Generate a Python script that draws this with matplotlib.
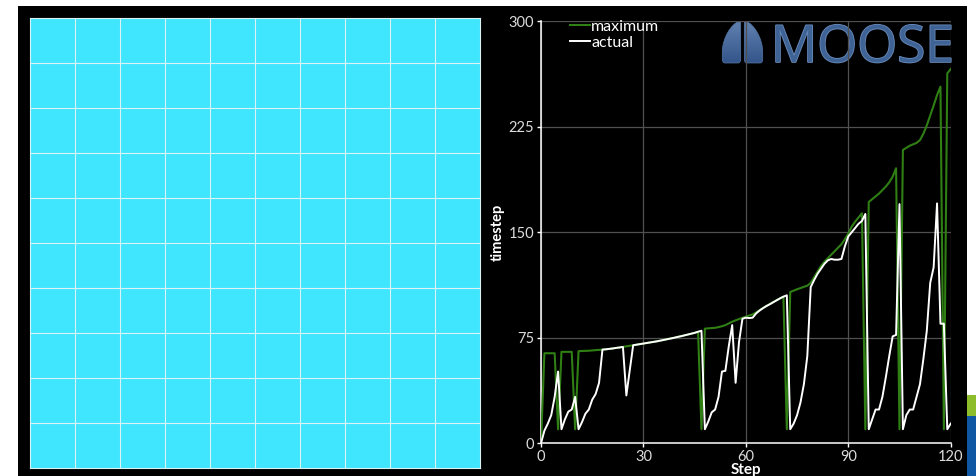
import numpy as np
import matplotlib
matplotlib.use("Agg")
import matplotlib.pyplot as plt
from matplotlib.colors import LinearSegmentedColormap
from matplotlib.patches import Rectangle, PathPatch
from matplotlib.path import Path
import matplotlib.patheffects as pe

# timestep history, one value per step
steps = np.arange(121)
maximum = [
    0, 64, 64, 64, 64, 10, 65, 65, 65, 65,
    10, 65.5, 65.6, 65.7, 65.8, 66.0, 66.2, 66.4, 66.6, 66.8,
    67.1, 67.4, 67.8, 68.1, 68.5, 68.9, 69.3, 69.7, 70.1, 70.5,
    70.9, 71.3, 71.7, 72.1, 72.5, 73.0, 73.5, 74.0, 74.5, 75.0,
    75.6, 76.1, 76.7, 77.3, 77.9, 78.5, 79.3, 10, 81.5, 81.7,
    81.9, 82.1, 82.6, 83.2, 84.0, 85.2, 86.4, 87.4, 88.3, 89.2,
    90.0, 90.8, 91.6, 93.0, 94.6, 96.2, 97.6, 99.0, 100.4, 101.7,
    103.0, 104.3, 10, 107.5, 108.5, 109.5, 110.3, 111.2, 112.0, 114.0,
    118.0, 122.0, 126.0, 129.0, 131.5, 134.0, 136.5, 139.0, 141.5, 145.0,
    149.0, 154.0, 157.5, 160.5, 163.5, 10, 171.5, 173.5, 175.5, 177.5,
    180.0, 182.5, 185.5, 189.5, 195.5, 10, 208.5, 210.0, 211.5, 212.5,
    213.5, 215.5, 220.0, 226.0, 233.0, 240.0, 247.5, 253.5, 10, 263.0,
    266.0,
]
actual = [
    0, 9, 14, 20, 33, 51, 10, 17, 22.5, 24,
    33, 10, 15, 21, 24, 31, 35, 43, 66.6, 66.8,
    67.1, 67.4, 67.8, 68.1, 68.5, 34, 52, 69.7, 70.1, 70.5,
    70.9, 71.3, 71.7, 72.1, 72.5, 73.0, 73.5, 74.0, 74.5, 75.0,
    75.6, 76.1, 76.7, 77.3, 77.9, 78.5, 79.3, 80, 10, 15.5,
    22, 24, 33, 51, 51.5, 69, 84, 43, 72, 88.5,
    89.3, 89, 89.3, 92.3, 94.3, 96, 97.5, 98.8, 100.2, 101.6,
    103, 104.2, 105.2, 10, 14, 20, 29, 42, 62, 111,
    116, 120.5, 124, 127.5, 130, 131, 130.5, 130.5, 131, 140,
    147, 150, 153, 156, 158, 163, 10, 17, 24, 24,
    33, 47, 62, 76, 77, 170, 10, 20, 24, 24,
    33, 42, 60, 80, 114, 125, 170.5, 85, 85, 10,
    14,
]
xticks = [0, 30, 60, 90, 120]
yticks = [0, 75, 150, 225, 300]
mesh_cells = 10

W, H = 976, 476
fig = plt.figure(figsize=(W / 100, H / 100), dpi=100, facecolor="white")

# full-figure pixel canvas for the backdrop and decorations
bg = fig.add_axes([0, 0, 1, 1])
bg.set_xlim(0, W)
bg.set_ylim(H, 0)
bg.axis("off")
bg.add_patch(Rectangle((18, 6), 967 - 18, H - 6, color="black", lw=0))
bg.add_patch(Rectangle((967, 395), 9, 21, color="#8dbd2b", lw=0))
bg.add_patch(Rectangle((967, 416), 9, 60, color="#0f56a3", lw=0))


def lobe(x_in, x_out):
    d = x_out - x_in
    verts = [
        (x_in, 24),
        (x_in, 59),
        (x_in, 63), (x_in + 0.15 * d, 63),
        (x_in + 0.85 * d, 63),
        (x_out, 63), (x_out, 59),
        (x_out, 52),
        (x_out, 38), (x_in + 0.5 * d, 24), (x_in + 0.12 * d, 21.5),
        (x_in, 20.5), (x_in, 24),
        (x_in, 24),
    ]
    codes = [Path.MOVETO, Path.LINETO, Path.CURVE3, Path.CURVE3,
             Path.LINETO, Path.CURVE3, Path.CURVE3, Path.LINETO,
             Path.CURVE4, Path.CURVE4, Path.CURVE4,
             Path.CURVE3, Path.CURVE3, Path.CLOSEPOLY]
    return PathPatch(Path(verts, codes), facecolor="none",
                     edgecolor="#5676a6", lw=0.5, zorder=3)

# lung-shaped logo lobes filled with a vertical blue gradient
lobe_cmap = LinearSegmentedColormap.from_list("lobe", ["#6282b0", "#33548a"])
shade = np.linspace(0, 1, 64)[:, None]
for x_in, x_out in [(740.7, 722.3), (744.3, 762.7)]:
    p = lobe(x_in, x_out)
    bg.add_patch(p)
    img = bg.imshow(shade, cmap=lobe_cmap, extent=(718, 767, 64, 20),
                    aspect="auto", zorder=2)
    img.set_clip_path(p)
bg.set_xlim(0, W)
bg.set_ylim(H, 0)

bg.text(771, 62, "MOOSE", fontsize=37, family="Open Sans", color="#3f6395",
        va="baseline", ha="left",
        path_effects=[pe.withStroke(linewidth=1.2, foreground="#6a8cbc")])

# mesh view on the left
mesh = fig.add_axes([30 / W, (H - 468) / H, 450 / W, 450 / H])
mesh.set_facecolor("#40e6fe")
mesh.set_xlim(0, mesh_cells)
mesh.set_ylim(0, mesh_cells)
for k in range(1, mesh_cells):
    mesh.axvline(k, color="#dcf3f6", lw=0.8)
    mesh.axhline(k, color="#dcf3f6", lw=0.8)
mesh.set_xticks([])
mesh.set_yticks([])
for s in mesh.spines.values():
    s.set_color("#d8f2f6")
    s.set_linewidth(0.8)

# timestep plot
ax = fig.add_axes([541 / W, (H - 443.3) / H, 409.7 / W, 422.1 / H])
ax.set_facecolor("none")
ax.plot(steps, maximum, color="#2f7f14", lw=1.5, label="maximum", zorder=3)
ax.plot(steps, actual, color="white", lw=1.4, label="actual", zorder=4)
ax.set_xlim(0, 120)
ax.set_ylim(0, 300)
ax.set_xticks(xticks)
ax.set_yticks(yticks)
ax.grid(True, color="#505050", lw=0.9)
ax.set_axisbelow(True)
for side in ("top", "right"):
    ax.spines[side].set_visible(False)
for side in ("left", "bottom"):
    ax.spines[side].set_color("white")
    ax.spines[side].set_linewidth(1.1)
ax.tick_params(colors="white", labelcolor="#dcdcdc", length=3, width=1,
               labelsize=10.5, pad=2)
for lbl in ax.get_xticklabels() + ax.get_yticklabels():
    lbl.set_family("Lato")
ax.set_xlabel("Step", color="white", fontsize=11, fontweight="bold",
              family="Lato", labelpad=-1)
ax.set_ylabel("timestep", color="white", fontsize=10.5, fontweight="bold",
              family="Lato", labelpad=3)
leg = ax.legend(loc="upper left", bbox_to_anchor=(564 / W, 1 - 13 / H),
                bbox_transform=fig.transFigure, frameon=False,
                handlelength=1.25, handletextpad=0.05, labelspacing=0.12,
                borderaxespad=0, prop={"family": "Lato", "size": 11.5})
for t in leg.get_texts():
    t.set_color("white")

fig.savefig("out.png", dpi=100, facecolor="white")
